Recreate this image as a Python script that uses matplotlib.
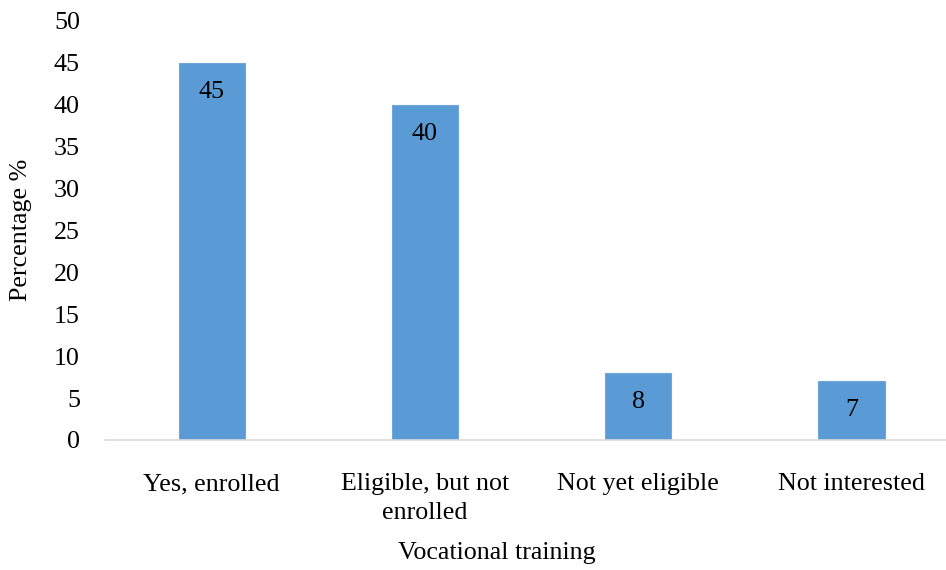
import matplotlib
matplotlib.use("Agg")
import matplotlib.pyplot as plt

categories = ["Yes, enrolled", "Eligible, but not\nenrolled", "Not yet eligible", "Not interested"]
values = [45, 40, 8, 7]
yticks = [0, 5, 10, 15, 20, 25, 30, 35, 40, 45, 50]

plt.rcParams['font.family'] = ['Liberation Serif', 'DejaVu Serif']

W, H = 946, 570
fig = plt.figure(figsize=(W / 100, H / 100), dpi=100)
left, right = 105 / W, 946 / W
bottom, top = (H - 440) / H, (H - 21) / H
ax = fig.add_axes([left, bottom, right - left, top - bottom])

x = list(range(len(categories)))
bars = ax.bar(x, values, width=0.31, color="#5B9BD5", edgecolor="#6FA7DC", linewidth=0.8, zorder=2)

ax.set_xlim(-0.5, -0.5 + (946 - 105) / 213.3)
ax.set_ylim(0, 50)
ax.set_yticks(yticks)
ax.set_yticklabels([str(t) for t in yticks], fontsize=18.7)
ax.set_xticks(x)
ax.set_xticklabels(categories, fontsize=18.7, linespacing=1.38)
ax.tick_params(axis='y', length=0, pad=18)
ax.tick_params(axis='x', length=0, pad=24)

for s in ['left', 'right', 'top']:
    ax.spines[s].set_visible(False)
ax.spines['bottom'].set_color('#D9D9D9')
ax.spines['bottom'].set_linewidth(1.2)

for xi, v in zip(x, values):
    ax.annotate(str(v), xy=(xi, v), xytext=(0, -25), textcoords='offset points',
                ha='center', va='baseline', fontsize=18.7, color='black')

fig.text(497 / W, 1 - 553 / H, "Vocational training", ha='center', va='center', fontsize=18.7)
fig.text(21 / W, 1 - 230 / H, "Percentage %", ha='center', va='center', rotation=90, fontsize=18.7)

fig.savefig("out.png", dpi=100)
